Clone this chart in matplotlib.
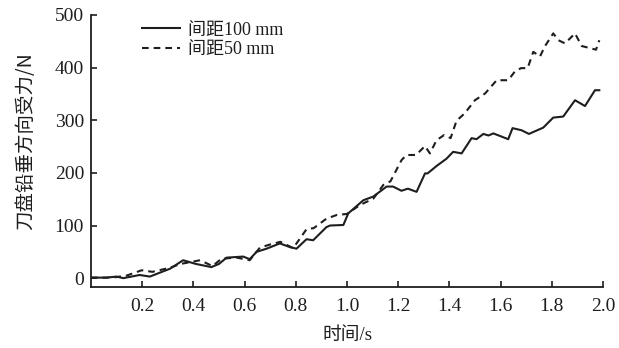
import matplotlib
matplotlib.use("Agg")
import matplotlib.pyplot as plt

# Data
t_100 = [0.0, 0.06, 0.10, 0.126, 0.19, 0.23, 0.309, 0.36, 0.41, 0.47, 0.50, 0.53, 0.595, 0.62,
         0.647, 0.686, 0.738, 0.777, 0.803, 0.842, 0.868, 0.92, 0.934, 0.986, 1.005, 1.064,
         1.103, 1.155, 1.18, 1.213, 1.238, 1.272, 1.305, 1.315, 1.35, 1.389, 1.415, 1.448,
         1.487, 1.506, 1.533, 1.553, 1.572, 1.630, 1.647, 1.682, 1.711, 1.767, 1.806, 1.845,
         1.891, 1.93, 1.969, 1.986]
f_100 = [1, 1, 3, 0, 6, 3, 18, 34, 27, 21, 27, 39, 41, 36,
         50, 56, 66, 59, 56, 74, 72, 97, 100, 101, 123, 148,
         155, 174, 174, 166, 170, 164, 199, 199, 213, 227, 240, 237,
         266, 264, 274, 271, 275, 264, 285, 281, 274, 286, 305, 307,
         338, 327, 357, 357]

t_50 = [0.0, 0.06, 0.10, 0.14, 0.198, 0.24, 0.31, 0.35, 0.426, 0.475, 0.51, 0.57, 0.62, 0.66,
        0.70, 0.74, 0.79, 0.842, 0.87, 0.92, 0.96, 1.0, 1.051, 1.103, 1.142, 1.17, 1.213,
        1.232, 1.27, 1.305, 1.324, 1.35, 1.38, 1.405, 1.428, 1.46, 1.5, 1.54, 1.585, 1.63,
        1.655, 1.68, 1.706, 1.728, 1.754, 1.774, 1.806, 1.826, 1.852, 1.891, 1.917, 1.95,
        1.973, 1.986]
f_50 = [1, 1, 2, 5, 15, 12, 20, 27, 34, 23, 37, 39, 34, 58,
        64, 69, 57, 93, 95, 113, 120, 122, 139, 151, 177, 184, 224,
        234, 234, 251, 237, 262, 272, 266, 299, 313, 338, 351, 376, 376,
        392, 399, 399, 430, 421, 441, 465, 452, 446, 465, 441, 437,
        434, 452]

x_ticks = [0.2, 0.4, 0.6, 0.8, 1.0, 1.2, 1.4, 1.6, 1.8, 2.0]
y_ticks = [0, 100, 200, 300, 400, 500]
label_100 = "间距100 mm"
label_50 = "间距50 mm"
xlabel = "时间/s"
ylabel = "刀盘铅垂方向受力/N"

serif = ["Liberation Serif", "Noto Sans CJK SC"]
cjk = ["Noto Sans CJK SC", "DejaVu Sans"]
ink = "#1e1e1e"

fig = plt.figure(figsize=(6.19, 3.48), dpi=100)
ax = fig.add_axes([0.147, 0.175, 0.827, 0.782])

ax.plot(t_100, f_100, color=ink, lw=1.5, ls="-", label=label_100)
ax.plot(t_50, f_50, color=ink, lw=1.5, ls=(0, (3.2, 2.4)), label=label_50)

ax.set_xlim(0, 2.0)
ax.set_ylim(-17, 500)
ax.set_xticks(x_ticks)
ax.set_xticklabels([f"{v:.1f}" for v in x_ticks])
ax.set_yticks(y_ticks)
ax.set_yticklabels([str(v) for v in y_ticks])
for s in ["top", "right"]:
    ax.spines[s].set_visible(False)
for s in ["left", "bottom"]:
    ax.spines[s].set_linewidth(1.3)
    ax.spines[s].set_color(ink)
ax.tick_params(direction="in", length=4, width=1.2, colors=ink)
ax.tick_params(axis="x", pad=8)
ax.tick_params(axis="y", pad=5)
for lab in ax.get_xticklabels() + ax.get_yticklabels():
    lab.set_family(serif)
    lab.set_fontsize(14)
    lab.set_color(ink)

ax.set_xlabel(xlabel, family=serif, fontsize=13.5, color=ink)
ax.xaxis.set_label_coords(0.501, -0.148)
ax.set_ylabel(ylabel, family=cjk, fontsize=14, color=ink)
ax.yaxis.set_label_coords(-0.108, 0.535)

leg = ax.legend(loc="upper left", bbox_to_anchor=(0.1, 0.975), frameon=False,
                prop={"family": serif, "size": 13}, handlelength=2.1,
                handletextpad=0.45, labelspacing=0.14, borderaxespad=0, borderpad=0)
for txt in leg.get_texts():
    txt.set_color(ink)

fig.savefig("out.png", dpi=100)
